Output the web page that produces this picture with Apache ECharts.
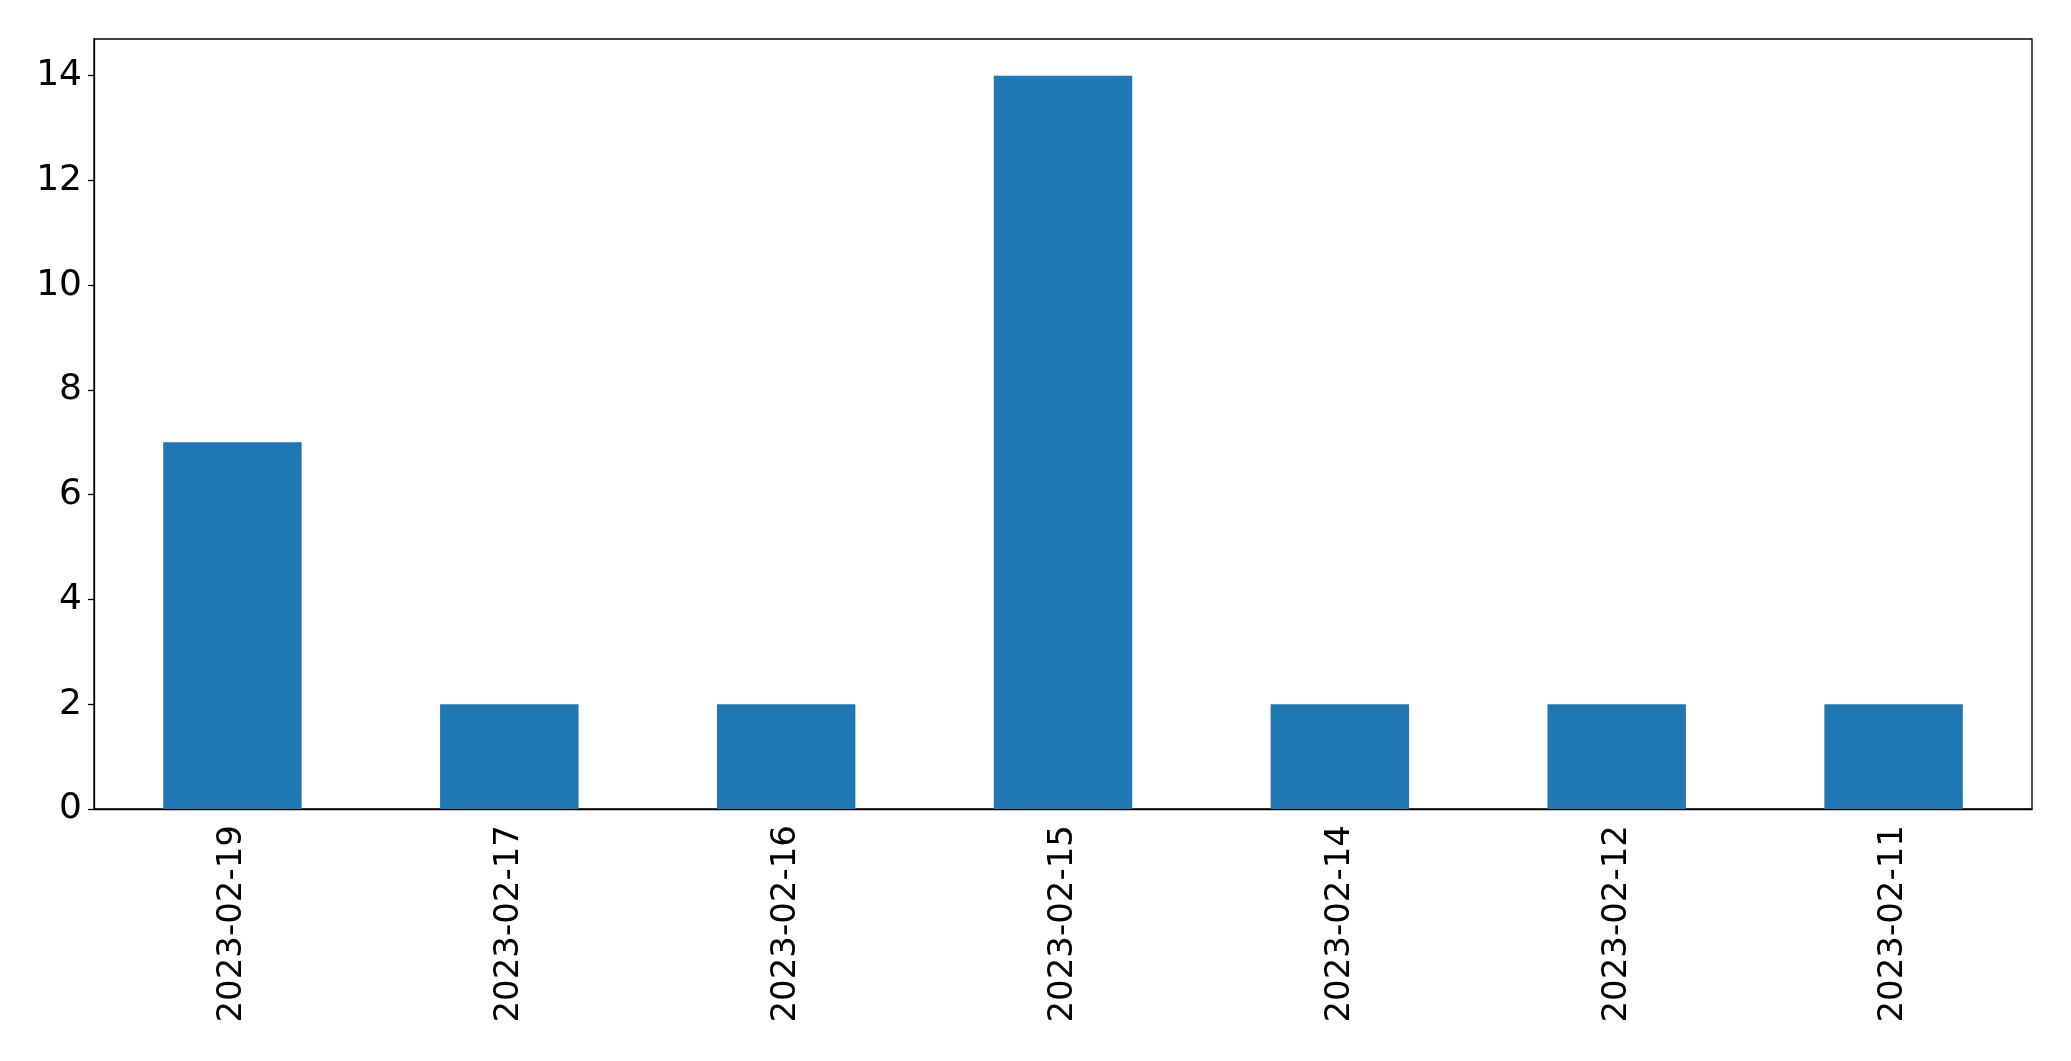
<!DOCTYPE html>
<html>
<head>
<meta charset="utf-8">
<script src="https://cdn.jsdelivr.net/npm/echarts@6/dist/echarts.min.js"></script>
<style>
  html, body { margin: 0; padding: 0; background: #fff; }
  #chart { width: 2071px; height: 1061px; }
</style>
</head>
<body>
<div id="chart"></div>
<script>
  // dates as they appear on the x axis (newest first)
  const dates = ['2023-02-19', '2023-02-17', '2023-02-16', '2023-02-15', '2023-02-14', '2023-02-12', '2023-02-11'];
  const counts = [7, 2, 2, 14, 2, 2, 2];
  const yMax = 14.7;

  const chart = echarts.init(document.getElementById('chart'));
  const font = 'DejaVu Sans';

  chart.setOption({
    animation: false,
    grid: {
      show: true,
      left: 94,
      right: 39,
      top: 39,
      bottom: 252,
      borderColor: '#000',
      borderWidth: 1.3,
      containLabel: false
    },
    xAxis: {
      type: 'category',
      data: dates,
      boundaryGap: true,
      axisLine: { lineStyle: { color: '#000', width: 1.3 } },
      axisTick: { alignWithLabel: true, length: 6, lineStyle: { color: '#000', width: 1.3 } },
      axisLabel: {
        rotate: 90,
        margin: 16,
        color: '#000',
        fontFamily: font,
        fontSize: 34
      }
    },
    yAxis: {
      type: 'value',
      min: 0,
      max: yMax,
      interval: 2,
      splitLine: { show: false },
      axisLine: { show: true, lineStyle: { color: '#000', width: 1.3 } },
      axisTick: { show: true, length: 6, lineStyle: { color: '#000', width: 1.3 } },
      axisLabel: {
        margin: 12,
        color: '#000',
        fontFamily: font,
        fontSize: 36,
        showMaxLabel: false
      }
    },
    series: [{
      type: 'bar',
      data: counts,
      barWidth: '50%',
      itemStyle: { color: '#1f77b4' }
    }]
  });
</script>
</body>
</html>
